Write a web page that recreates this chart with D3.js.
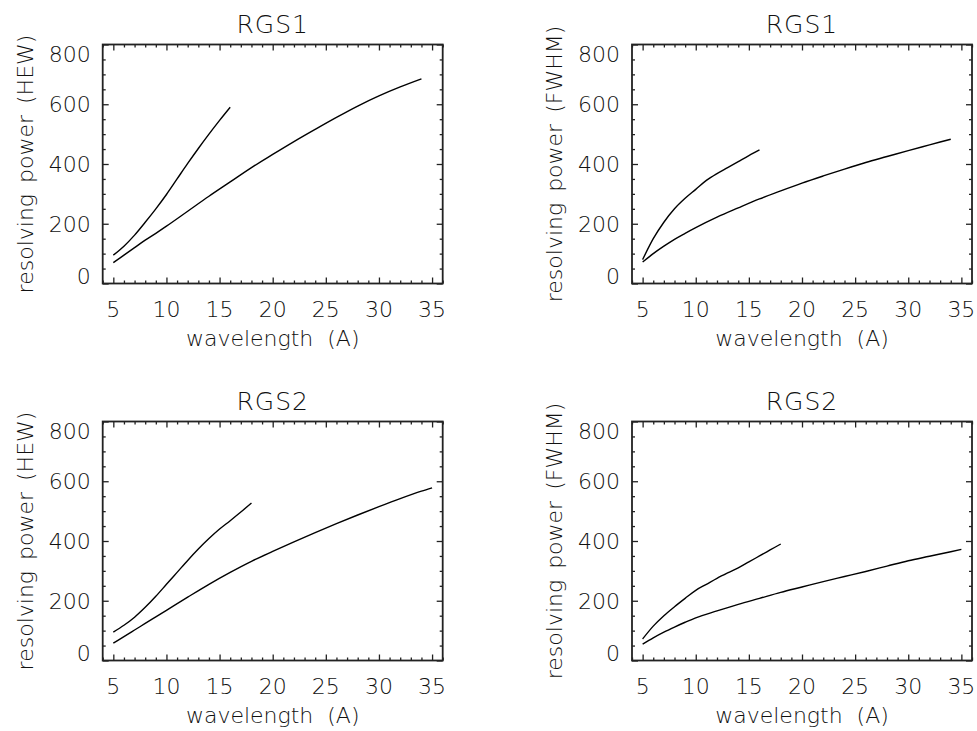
<!DOCTYPE html>
<html>
<head>
<meta charset="utf-8">
<script src="https://cdn.jsdelivr.net/npm/d3@7"></script>
<style>
  body { margin: 0; background: #fff; }
  text { font-family: "DejaVu Sans", sans-serif; font-weight: 200; fill: #111; }
</style>
</head>
<body>
<div id="chart"></div>
<script>
// panel texts
var panelTitles = ["RGS1", "RGS1", "RGS2", "RGS2"];
var yTitles = ["resolving power (HEW)", "resolving power (FWHM)",
               "resolving power (HEW)", "resolving power (FWHM)"];
var xTitle = "wavelength  (A)";

// tick labels
var xMajor = [5, 10, 15, 20, 25, 30, 35];
var yMajor = [0, 200, 400, 600, 800];

// RGS1 HEW
var rgs1HewHiX = [5, 6, 7, 8, 9, 10, 11, 12, 13, 14, 15, 16];
var rgs1HewHiY = [95, 125, 162, 205, 250, 298, 350, 402, 452, 500, 546, 590];
var rgs1HewLoX = [5, 6, 7, 8, 9, 10, 12, 14, 16, 18, 20, 22, 24, 26, 28, 30, 32, 34];
var rgs1HewLoY = [70, 95, 120, 145, 168, 192, 242, 292, 340, 388, 432, 475, 516, 556, 594, 628, 658, 685];

// RGS1 FWHM
var rgs1FwhmHiX = [5, 6, 7, 8, 9, 10, 11, 12, 13, 14, 15, 16];
var rgs1FwhmHiY = [80, 150, 205, 250, 285, 315, 345, 368, 388, 408, 428, 447];
var rgs1FwhmLoX = [5, 6, 7, 8, 9, 10, 12, 14, 16, 18, 20, 22, 24, 26, 28, 30, 32, 34];
var rgs1FwhmLoY = [72, 100, 125, 148, 168, 187, 222, 253, 283, 310, 336, 360, 383, 405, 425, 445, 464, 483];

// RGS2 HEW
var rgs2HewHiX = [5, 6, 7, 8, 9, 10, 11, 12, 13, 14, 15, 16, 17, 18];
var rgs2HewHiY = [95, 118, 145, 178, 215, 255, 295, 335, 373, 408, 440, 468, 497, 527];
var rgs2HewLoX = [5, 6, 7, 8, 9, 10, 12, 14, 16, 18, 20, 22, 24, 26, 28, 30, 32, 34, 35];
var rgs2HewLoY = [58, 80, 102, 124, 146, 168, 212, 255, 295, 332, 365, 397, 428, 458, 487, 515, 542, 567, 578];

// RGS2 FWHM
var rgs2FwhmHiX = [5, 6, 7, 8, 9, 10, 11, 12, 13, 14, 15, 16, 17, 18];
var rgs2FwhmHiY = [72, 115, 150, 180, 208, 235, 255, 275, 293, 310, 330, 350, 370, 390];
var rgs2FwhmLoX = [5, 6, 7, 8, 9, 10, 12, 14, 16, 18, 20, 22, 24, 26, 28, 30, 32, 34, 35];
var rgs2FwhmLoY = [55, 76, 95, 112, 128, 143, 166, 188, 208, 228, 246, 264, 281, 298, 316, 334, 349, 364, 372];

var panelSeries = [
  [[rgs1HewHiX, rgs1HewHiY], [rgs1HewLoX, rgs1HewLoY]],
  [[rgs1FwhmHiX, rgs1FwhmHiY], [rgs1FwhmLoX, rgs1FwhmLoY]],
  [[rgs2HewHiX, rgs2HewHiY], [rgs2HewLoX, rgs2HewLoY]],
  [[rgs2FwhmHiX, rgs2FwhmHiY], [rgs2FwhmLoX, rgs2FwhmLoY]]
];

var W = 977, H = 731;
// plot boxes: left, top
var boxes = [
  {left: 102.7, top: 44.5}, {left: 632, top: 44.5},
  {left: 102.7, top: 421.5}, {left: 632, top: 421.5}
];
var boxW = 340, boxH = 239;

var svg = d3.select("#chart").append("svg")
    .attr("width", W)
    .attr("height", H);

boxes.forEach(function(b, p) {
  var x = d3.scaleLinear().domain([4, 36]).range([0, boxW]);
  var y = d3.scaleLinear().domain([0, 800]).range([boxH, 0]);

  var g = svg.append("g")
      .attr("transform", "translate(" + b.left + "," + b.top + ")");

  var xMinor = d3.range(4, 37, 1).filter(function(v) { return xMajor.indexOf(v) < 0; });
  var yMinor = d3.range(0, 801, 50).filter(function(v) { return yMajor.indexOf(v) < 0; });

  // inward ticks on all four sides
  function tickAxis(axisFn, scale, vals, size, tr) {
    var a = g.append("g")
        .attr("transform", tr)
        .call(axisFn(scale).tickValues(vals).tickSizeInner(size).tickSizeOuter(0).tickFormat(""));
    a.select(".domain").remove();
    a.selectAll("line").attr("stroke", "#222").attr("stroke-width", 1.3);
  }
  tickAxis(d3.axisBottom, x, xMajor, -6, "translate(0," + boxH + ")");
  tickAxis(d3.axisBottom, x, xMinor, -3, "translate(0," + boxH + ")");
  tickAxis(d3.axisTop, x, xMajor, -6, "translate(0,0)");
  tickAxis(d3.axisTop, x, xMinor, -3, "translate(0,0)");
  tickAxis(d3.axisLeft, y, yMajor, -6, "translate(0,0)");
  tickAxis(d3.axisLeft, y, yMinor, -3, "translate(0,0)");
  tickAxis(d3.axisRight, y, yMajor, -6, "translate(" + boxW + ",0)");
  tickAxis(d3.axisRight, y, yMinor, -3, "translate(" + boxW + ",0)");

  // frame
  g.append("rect")
      .attr("width", boxW).attr("height", boxH)
      .attr("fill", "none").attr("stroke", "#222").attr("stroke-width", 1.8);

  // x tick labels
  g.selectAll(".xl").data(xMajor).enter().append("text")
      .attr("x", function(d) { return x(d); })
      .attr("y", boxH + 33)
      .attr("text-anchor", "middle")
      .style("font-size", "22px")
      .text(function(d) { return d; });

  // y tick labels (end labels kept inside the box height)
  g.selectAll(".yl").data(yMajor).enter().append("text")
      .attr("x", -12)
      .attr("y", function(d) { return Math.max(17, Math.min(boxH, y(d) + 8)); })
      .attr("text-anchor", "end")
      .style("font-size", "22px")
      .text(function(d) { return d; });

  // titles
  g.append("text")
      .attr("x", boxW / 2).attr("y", -12)
      .attr("text-anchor", "middle")
      .style("font-size", "25px")
      .style("letter-spacing", "1px")
      .text(panelTitles[p]);

  g.append("text")
      .attr("x", boxW / 2).attr("y", boxH + 62)
      .attr("text-anchor", "middle")
      .style("font-size", "22px")
      .style("white-space", "pre")
      .text(xTitle);

  g.append("text")
      .attr("transform", "translate(-70," + (boxH / 2) + ") rotate(-90)")
      .attr("text-anchor", "middle")
      .style("font-size", "22px")
      .style("word-spacing", "4px")
      .text(yTitles[p]);

  var line = d3.line()
      .x(function(d) { return x(d[0]); })
      .y(function(d) { return y(d[1]); })
      .curve(d3.curveMonotoneX);

  panelSeries[p].forEach(function(s) {
    var pts = s[0].map(function(v, i) { return [v, s[1][i]]; });
    g.append("path")
        .datum(pts)
        .attr("d", line)
        .attr("fill", "none")
        .attr("stroke", "#000")
        .attr("stroke-width", 1.4);
  });
});
</script>
</body>
</html>
